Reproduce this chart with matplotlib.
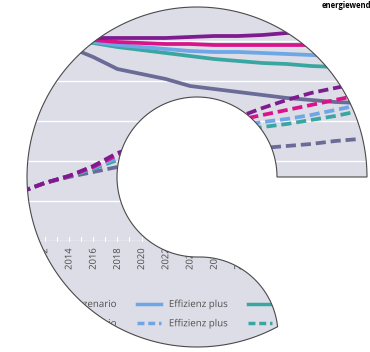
import numpy as np
import matplotlib
matplotlib.use("Agg")
import matplotlib.pyplot as plt
import matplotlib.patheffects as pe
from matplotlib.path import Path
from matplotlib.patches import PathPatch
from matplotlib.lines import Line2D
from matplotlib.text import Text
from matplotlib.transforms import Affine2D

W, H = 370, 352

# solid lines
years_solid = [2014, 2015, 2016, 2018, 2020, 2022, 2024, 2026, 2028, 2030, 2032, 2034, 2036, 2038]
purple_solid = [101.5, 101.5, 101.5, 101.5, 101.5, 101.5, 102, 102.5, 102.5, 103, 104, 104.5, 105, 105.5]
magenta_solid = [101, 101, 100.5, 99.5, 99, 98.5, 98.5, 98, 98, 98, 98, 98, 98, 98]
lightblue_solid = [100, 100, 99.5, 98, 97, 96, 95, 94.5, 94.5, 94, 93.5, 93, 92.5, 92]
teal_solid = [99.5, 99.5, 99, 97, 95.5, 94, 92.5, 91, 90, 89, 88.5, 87.5, 87, 86.5]
slate_solid = [96.5, 94.5, 92, 86, 83.5, 81, 77.5, 76, 74.5, 73, 71.5, 70.5, 69.5, 69]

# dashed lines
years_dash = [2010, 2012, 2014, 2016, 2018, 2020, 2022, 2024, 2026, 2028, 2030, 2032, 2034, 2036, 2038]
purple_dash = [24.5, 29, 32.5, 37.5, 44, 48, 52, 55.5, 59, 62, 66.5, 70.5, 74, 76.5, 79]
magenta_dash = [24.5, 29, 32.5, 37, 43, 46.5, 50.5, 54, 57.5, 60.5, 63, 65.5, 68, 70.5, 73]
lightblue_dash = [24.5, 29, 32.5, 36.5, 41.5, 45, 48.5, 52, 55, 57.5, 59.5, 61, 63, 65.5, 68]
teal_dash = [24.5, 29, 32.5, 36, 40.5, 44, 47.5, 50.5, 53, 55, 57, 58.5, 60.5, 62.5, 65]
slate_dash = [24.5, 29, 32, 34.5, 37, 38.5, 40, 42, 43.5, 45, 46.5, 47.5, 48.5, 50, 51]

PURPLE = "#7e1b8e"
MAGENTA = "#d9138a"
LIGHTBLUE = "#6ea6e6"
TEAL = "#3aa6a2"
SLATE = "#6a6b96"
BG = "#dddde7"

legend_labels = ["Referenzszenario", "Effizienz plus", "Suffizienz"]


def shape_path():
    # C-shaped mask, pixel coords with y up
    c1 = np.array([197.0, 175.0])
    c2 = np.array([200.0, 17.0])
    a = np.radians(np.linspace(0, 298, 200))
    outer = c1 + 170 * np.column_stack([np.cos(a), np.sin(a)])
    a = np.radians(np.linspace(6, 90, 60))
    lobe = c2 + 78 * np.column_stack([np.cos(a), np.sin(a)])
    a = np.radians(np.linspace(270, 0, 120))
    inner = c1 + 80 * np.column_stack([np.cos(a), np.sin(a)])
    pts = np.vstack([outer, lobe, inner, outer[:1]])
    codes = [Path.MOVETO] + [Path.LINETO] * (len(pts) - 2) + [Path.CLOSEPOLY]
    return Path(pts, codes)


def main():
    fig = plt.figure(figsize=(W / 100, H / 100), dpi=100)
    px = Affine2D().scale(1 / W, 1 / H) + fig.transFigure

    path = shape_path()
    fill = PathPatch(path, facecolor=BG, edgecolor="none", transform=px, zorder=-1)
    fig.add_artist(fill)
    clip = PathPatch(path, transform=px)
    outline = PathPatch(path, facecolor="none", edgecolor="#4a4a4a", lw=0.8,
                        transform=px, zorder=5)
    fig.add_artist(outline)

    ax = fig.add_axes([0, 111 / H, 1, 240 / H])
    ax.set_facecolor("none")
    ax.set_xlim(2008.3, 2008.3 + W / 12.1)
    ax.set_ylim(0, 120)
    for s in ax.spines.values():
        s.set_visible(False)

    ax.set_yticks(range(0, 121, 20))
    ax.yaxis.grid(True, color="white", lw=1.0)
    ax.set_axisbelow(True)
    ax.tick_params(axis="y", length=0, labelleft=False)

    ax.set_xticks(range(2010, 2039, 2))
    ax.set_xticks(range(2009, 2039), minor=True)
    ax.tick_params(axis="x", which="both", direction="in", color="white",
                   length=3, width=0.8, labelsize=6.8, labelcolor="#4a4a4a",
                   labelrotation=90, pad=5)
    for lab in ax.get_xticklabels():
        lab.set_family("Open Sans")

    lw = 2.7
    series = [
        (slate_solid, slate_dash, SLATE),
        (teal_solid, teal_dash, TEAL),
        (lightblue_solid, lightblue_dash, LIGHTBLUE),
        (magenta_solid, magenta_dash, MAGENTA),
        (purple_solid, purple_dash, PURPLE),
    ]
    for solid, dash, col in series:
        ax.plot(years_solid, solid, color=col, lw=lw, solid_capstyle="butt")
        ax.plot(years_dash, dash, color=col, lw=lw, dashes=(2.7, 1.3))

    handles = []
    labels = []
    for col, lab in zip([SLATE, LIGHTBLUE, TEAL], legend_labels):
        handles.append(Line2D([], [], color=col, lw=2.5))
        handles.append(Line2D([], [], color=col, lw=2.5, dashes=(2.0, 1.1)))
        labels += [lab, lab]
    ax.legend(handles, labels, ncol=3, loc="upper left", bbox_to_anchor=(6, 53),
              bbox_transform=px, frameon=False, borderpad=0, borderaxespad=0,
              handlelength=2.5, handletextpad=0.8, columnspacing=2.0,
              labelspacing=0.85, prop={"family": "Open Sans", "size": 7},
              labelcolor="#505050")

    logo = fig.text(322 / W, 1 - 6 / H, "energiewende", fontsize=5.5,
                    fontweight="bold", family="Open Sans", color="black",
                    va="center", ha="left")

    fig.canvas.draw()
    for art in fig.findobj():
        if art is fig or art is fig.patch or art is fill or art is outline or art is logo:
            continue
        art.set_clip_path(clip)
        # agg ignores clip paths for plain text, so draw text as paths
        if isinstance(art, Text):
            art.set_path_effects([pe.Normal()])

    fig.savefig("out.png", dpi=100)


if __name__ == "__main__":
    main()
